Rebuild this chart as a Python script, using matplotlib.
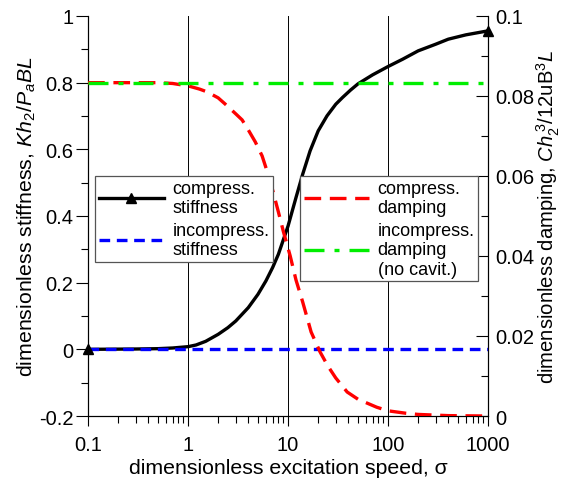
import matplotlib
matplotlib.use("Agg")
import matplotlib.pyplot as plt
from matplotlib.lines import Line2D

plt.rcParams["font.family"] = ["Liberation Sans", "DejaVu Sans"]
plt.rcParams["mathtext.fontset"] = "custom"
plt.rcParams["mathtext.it"] = "Liberation Sans:italic"
plt.rcParams["mathtext.rm"] = "Liberation Sans"

# ── data ─────────────────────────────────────────────────────────────────
sigma_k = [0.1, 0.3, 0.5, 0.7, 1, 1.2, 1.5, 2, 2.5, 3, 4, 5, 6, 7, 8, 10,
           12, 14, 16.6, 20, 24.5, 30, 35, 42, 50, 70, 100, 140, 200, 300,
           400, 600, 1000]
stiff_comp = [0.0, 0.001, 0.002, 0.004, 0.008, 0.013, 0.024, 0.045, 0.065,
              0.085, 0.125, 0.165, 0.205, 0.245, 0.285, 0.37, 0.455, 0.525,
              0.595, 0.655, 0.70, 0.735, 0.755, 0.777, 0.796, 0.823, 0.848,
              0.87, 0.895, 0.915, 0.93, 0.943, 0.955]
sigma_c = [0.1, 0.5, 0.7, 1, 1.3, 1.55, 2, 2.34, 3, 3.47, 4, 4.7, 5.5, 6.2,
           7, 8, 9, 10.5, 12, 14, 17, 20.9, 25, 30, 39, 50, 77, 100, 150,
           200, 400, 1000]
damp_comp = [0.0833, 0.0833, 0.0831, 0.0825, 0.0817, 0.081, 0.0795, 0.078,
             0.0755, 0.074, 0.0715, 0.0685, 0.065, 0.061, 0.0565, 0.051,
             0.046, 0.040, 0.034, 0.0285, 0.021, 0.016, 0.0125, 0.0095,
             0.006, 0.0042, 0.0022, 0.0013, 0.0007, 0.0004, 0.0001, 0.0]
sigma_range = [0.1, 1000]
stiff_incomp = [0.0, 0.0]
damp_incomp = [0.0833, 0.0833]

fig = plt.figure(figsize=(5.61, 4.81), dpi=100)
ax = fig.add_axes([0.157, 0.133, 0.713, 0.832])
ax2 = ax.twinx()

ax.set_xscale("log")
ax.set_xlim(0.1, 1000)
ax.set_ylim(-0.2, 1.0)
ax2.set_ylim(0, 0.1)

# vertical grid at decades
for xv in [1, 10, 100]:
    ax.axvline(xv, color="black", lw=0.7, zorder=0)

ax.plot(sigma_k, stiff_comp, color="black", lw=2.4, zorder=3)
ax.plot([sigma_k[0], sigma_k[-1]], [stiff_comp[0], stiff_comp[-1]], ls="none",
        marker="^", ms=7, mfc="black", mec="black", zorder=5, clip_on=False)
ax.plot(sigma_range, stiff_incomp, color="#0000ff", lw=2.4, ls=(0, (3.2, 2.0)),
        zorder=4)
ax2.plot(sigma_c, damp_comp, color="#ff0000", lw=2.4, ls=(0, (5, 2.6)), zorder=3)
ax2.plot(sigma_range, damp_incomp, color="#00ee00", lw=2.4,
         ls=(0, (6, 3, 1.5, 3)), zorder=4)

# spines / ticks
for a in (ax, ax2):
    a.spines["top"].set_visible(False)
    a.set_facecolor("none")
ax.set_xticks([0.1, 1, 10, 100, 1000])
ax.set_xticklabels(["0.1", "1", "10", "100", "1000"])
ax.set_yticks([-0.2, 0, 0.2, 0.4, 0.6, 0.8, 1.0])
ax.set_yticklabels(["-0.2", "0", "0.2", "0.4", "0.6", "0.8", "1"])
ax.set_yticks([-0.1, 0.1, 0.3, 0.5, 0.7, 0.9], minor=True)
ax2.set_yticks([0, 0.02, 0.04, 0.06, 0.08, 0.1])
ax2.set_yticklabels(["0", "0.02", "0.04", "0.06", "0.08", "0.1"])
ax2.set_yticks([0.01, 0.03, 0.05, 0.07, 0.09], minor=True)

ax.tick_params(axis="y", which="major", direction="out", length=8.5,
               width=0.8, labelsize=14.5, pad=2)
ax.tick_params(axis="y", which="minor", direction="out", length=5, width=0.8)
ax.tick_params(axis="x", which="major", direction="out", length=7.5,
               width=0.8, labelsize=14.5, pad=6)
ax.tick_params(axis="x", which="minor", direction="out", length=5, width=0.8)
ax2.tick_params(axis="y", which="major", direction="in", length=8.5,
                width=0.8, labelsize=14.5, pad=5)
ax2.tick_params(axis="y", which="minor", direction="in", length=5, width=0.8)

ax.set_xlabel("dimensionless excitation speed, σ", fontsize=15.3, labelpad=3)
ax.set_ylabel(r"dimensionless stiffness, $Kh_2/P_aBL$", fontsize=15.3,
              labelpad=1)
ax2.set_ylabel(r"dimensionless damping, $Ch_2^{\,3}$/12uB$^3$$L$",
               fontsize=14.6, labelpad=0)

# legends
h1 = [Line2D([], [], color="black", lw=2.4, marker="^", ms=7),
      Line2D([], [], color="#0000ff", lw=2.4, ls=(0, (3.2, 2.0)))]
leg1 = ax2.legend(h1, ["compress.\nstiffness", "incompress.\nstiffness"],
                  loc="upper left", bbox_to_anchor=(0.0175, 0.6),
                  fontsize=13, numpoints=1, handlelength=3.6,
                  fancybox=False, framealpha=1, edgecolor="#555555",
                  borderpad=0.2, labelspacing=0.3, handletextpad=0.5,
                  borderaxespad=0)
leg1.get_frame().set_linewidth(0.9)
ax2.add_artist(leg1)
h2 = [Line2D([], [], color="#ff0000", lw=2.4, ls=(0, (5, 2.6))),
      Line2D([], [], color="#00ee00", lw=2.4, ls=(0, (6, 3, 1.5, 3)))]
leg2 = ax2.legend(h2, ["compress.\ndamping", "incompress.\ndamping\n(no cavit.)"],
                  loc="upper left", bbox_to_anchor=(0.53, 0.6),
                  fontsize=13, handlelength=3.6,
                  fancybox=False, framealpha=1, edgecolor="#555555",
                  borderpad=0.2, labelspacing=0.3, handletextpad=0.5,
                  borderaxespad=0)
leg2.get_frame().set_linewidth(0.9)

fig.savefig("out.png", dpi=100)
